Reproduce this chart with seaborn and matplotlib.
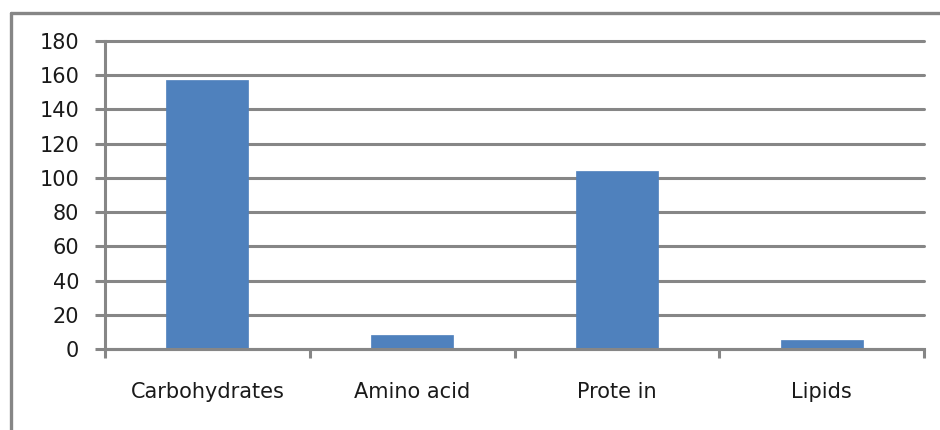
import matplotlib
matplotlib.use("Agg")
import matplotlib.pyplot as plt
import seaborn as sns
import pandas as pd
from matplotlib.lines import Line2D

categories = ["Carbohydrates", "Amino acid", "Prote in", "Lipids"]
values = [157, 8, 104, 5]
y_ticks = [0, 20, 40, 60, 80, 100, 120, 140, 160, 180]

df = pd.DataFrame({"category": categories, "value": values})

sns.set_theme(style="white")
plt.rcParams["font.family"] = ["DejaVu Sans"]

W, H = 940, 430
fig = plt.figure(figsize=(W / 100, H / 100), dpi=100)
ax = fig.add_axes([105 / W, 1 - 349 / H, (924 - 105) / W, (349 - 41) / H])

grid_c = "#868686"
txt_c = "#1a1a1a"
sns.barplot(data=df, x="category", y="value", color="#4F81BD", width=0.4,
            saturation=1, ax=ax, zorder=3, edgecolor="#4F81BD", linewidth=0.5)

ax.set_xlim(-0.5, 3.5)
ax.set_ylim(0, 180)
ax.set_yticks(y_ticks)
ax.set_yticklabels([str(v) for v in y_ticks])
ax.set_xlabel("")
ax.set_ylabel("")
for v in y_ticks:
    ax.axhline(v, color=grid_c, lw=2.2, zorder=1, clip_on=False)

ax.set_xticks([-0.5, 0.5, 1.5, 2.5, 3.5], minor=False)
ax.set_xticklabels([""] * 5)
ax.set_xticks([0, 1, 2, 3], minor=True)
ax.set_xticklabels(categories, minor=True)
ax.tick_params(axis="x", which="major", direction="out", length=6.5, width=2.2,
               color=grid_c, bottom=True)
ax.tick_params(axis="x", which="minor", length=0, pad=24, labelsize=15,
               labelcolor=txt_c)
ax.tick_params(axis="y", direction="out", length=7.5, width=2.2, color=grid_c,
               left=True, pad=11, labelsize=15, labelcolor=txt_c)

for s in ["top", "right"]:
    ax.spines[s].set_visible(False)
for s in ["left", "bottom"]:
    ax.spines[s].set_color(grid_c)
    ax.spines[s].set_linewidth(2.2)
    ax.spines[s].set_zorder(4)

# outer chart border (top and left visible)
fig.add_artist(Line2D([11 / W, 1.05], [1 - 13 / H, 1 - 13 / H],
                      transform=fig.transFigure, color=grid_c, lw=2.4))
fig.add_artist(Line2D([11 / W, 11 / W], [1 - 13 / H, -0.05],
                      transform=fig.transFigure, color=grid_c, lw=2.4))

fig.savefig("out.png", dpi=100, facecolor="white")
